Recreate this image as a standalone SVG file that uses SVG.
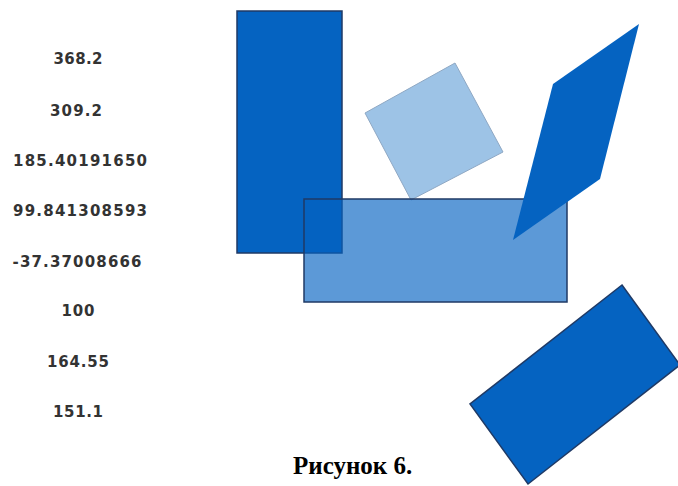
<svg xmlns="http://www.w3.org/2000/svg" width="678" height="486" viewBox="0 0 678 486">
  <style>
    .num { font-family: "DejaVu Sans", Verdana, sans-serif; font-size: 15px; font-weight: bold; fill: #333333; text-anchor: middle; }
    .caption { font-family: "Liberation Serif", "Times New Roman", serif; font-size: 25px; font-weight: bold; fill: #000000; }
    .solid { fill: #0563c1; stroke: #1f3a66; stroke-width: 1.5; }
    .translucent { fill: #0563c1; fill-opacity: 0.65; stroke: #1f3a66; stroke-width: 1.5; }
    .pale { fill: #9dc3e6; stroke: #8fa8c4; stroke-width: 1; }
  </style>
  <rect width="678" height="486" fill="#ffffff"/>

  <!-- numeric values column -->
  <g id="values">
    <text class="num" x="78" y="64" textLength="49" lengthAdjust="spacing">368.2</text>
    <text class="num" x="76" y="116" textLength="52" lengthAdjust="spacing">309.2</text>
    <text class="num" x="80" y="166" textLength="134" lengthAdjust="spacing">185.40191650</text>
    <text class="num" x="80" y="216" textLength="134" lengthAdjust="spacing">99.841308593</text>
    <text class="num" x="77" y="267" textLength="129" lengthAdjust="spacing">-37.37008666</text>
    <text class="num" x="78" y="316" textLength="33" lengthAdjust="spacing">100</text>
    <text class="num" x="78" y="367" textLength="62" lengthAdjust="spacing">164.55</text>
    <text class="num" x="78" y="417" textLength="50" lengthAdjust="spacing">151.1</text>
  </g>

  <!-- shapes -->
  <g id="tall-rect">
    <rect class="solid" x="237" y="11" width="105" height="242"/>
  </g>
  <g id="tilted-square">
    <polygon class="pale" points="365,113 455,63 503,152 411,200"/>
  </g>
  <g id="wide-rect">
    <rect class="translucent" x="304" y="199" width="263" height="103"/>
  </g>
  <g id="parallelogram">
    <polygon fill="#0563c1" points="639,24 553,84 513,240 600,179"/>
  </g>
  <g id="rotated-rect">
    <polygon class="solid" points="622,285 680,365 528,484 470,404"/>
  </g>

  <text class="caption" x="293" y="474">Рисунок 6.</text>
</svg>
